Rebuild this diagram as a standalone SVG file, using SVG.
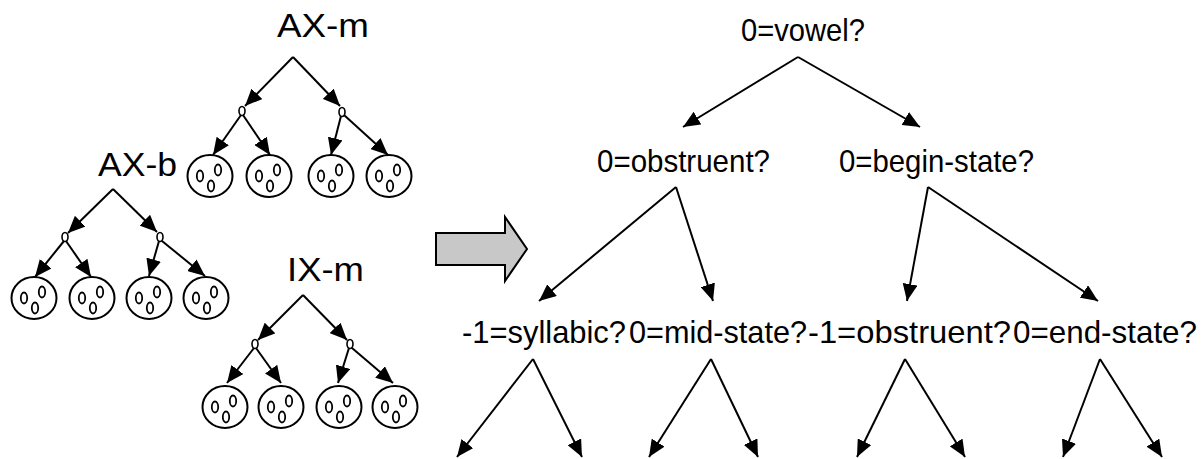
<svg xmlns="http://www.w3.org/2000/svg" xmlns:xlink="http://www.w3.org/1999/xlink" width="1203" height="459" viewBox="0 0 1203 459">
<style>
  .lbl { font-family: "Liberation Sans", Arial, sans-serif; fill: #000; }
  .big { font-size: 34px; }
  .q { font-size: 32px; }
  .q2 { font-size: 32px; }
  .edge { stroke: #000; stroke-width: 2; fill: none; marker-end: url(#ah); }
  .sn { fill: #fff; stroke: #000; stroke-width: 1.6; }
  .leafc { fill: #fff; stroke: #000; stroke-width: 2; }
  .mix { fill: none; stroke: #000; stroke-width: 1.8; }
</style>
<defs>
  <marker id="ah" markerWidth="18" markerHeight="15" refX="17" refY="7.5" orient="auto" markerUnits="userSpaceOnUse">
    <path d="M0,0 L17,7.5 L0,15 z" fill="#000"/>
  </marker>
  <g id="leaf">
    <ellipse class="leafc" cx="0" cy="0" rx="22.5" ry="21"/>
    <ellipse class="mix" cx="-10" cy="0" rx="3.2" ry="5.5"/>
    <ellipse class="mix" cx="8" cy="-6" rx="3.2" ry="5.5"/>
    <ellipse class="mix" cx="1" cy="10" rx="3.2" ry="5.5"/>
  </g>
</defs>
<rect width="1203" height="459" fill="#fff"/>

<g id="connectors">
  <!-- AX-m -->
  <line class="edge" x1="293" y1="57" x2="245" y2="106"/>
  <line class="edge" x1="293" y1="57" x2="340" y2="106"/>
  <line class="edge" x1="241" y1="115" x2="213" y2="155"/>
  <line class="edge" x1="243" y1="115" x2="270" y2="155"/>
  <line class="edge" x1="341" y1="116" x2="331" y2="155"/>
  <line class="edge" x1="344" y1="115" x2="388" y2="155"/>
  <!-- AX-b -->
  <line class="edge" x1="113" y1="189" x2="68" y2="233"/>
  <line class="edge" x1="113" y1="189" x2="157" y2="232"/>
  <line class="edge" x1="64" y1="241" x2="35" y2="277"/>
  <line class="edge" x1="66" y1="241" x2="91" y2="277"/>
  <line class="edge" x1="159" y1="241" x2="149" y2="276"/>
  <line class="edge" x1="162" y1="241" x2="205" y2="276"/>
  <!-- IX-m -->
  <line class="edge" x1="303" y1="295" x2="258" y2="340"/>
  <line class="edge" x1="303" y1="295" x2="347" y2="340"/>
  <line class="edge" x1="254" y1="348" x2="227" y2="383"/>
  <line class="edge" x1="256" y1="348" x2="281" y2="383"/>
  <line class="edge" x1="349" y1="348" x2="338" y2="383"/>
  <line class="edge" x1="352" y1="348" x2="393" y2="383"/>
  <!-- decision tree -->
  <line class="edge" x1="798" y1="57" x2="683" y2="127"/>
  <line class="edge" x1="798" y1="57" x2="920" y2="127"/>
  <line class="edge" x1="676" y1="187" x2="539" y2="301"/>
  <line class="edge" x1="676" y1="187" x2="713" y2="301"/>
  <line class="edge" x1="928" y1="187" x2="907" y2="301"/>
  <line class="edge" x1="928" y1="187" x2="1098" y2="301"/>
  <line class="edge" x1="533" y1="359" x2="457" y2="457"/>
  <line class="edge" x1="533" y1="359" x2="582" y2="457"/>
  <line class="edge" x1="711" y1="359" x2="649" y2="457"/>
  <line class="edge" x1="711" y1="359" x2="758" y2="457"/>
  <line class="edge" x1="905" y1="359" x2="857" y2="457"/>
  <line class="edge" x1="905" y1="359" x2="965" y2="457"/>
  <line class="edge" x1="1100" y1="359" x2="1063" y2="457"/>
  <line class="edge" x1="1100" y1="359" x2="1162" y2="457"/>
</g>

<g id="AX-m">
  <text class="lbl big" x="277" y="37" textLength="92" lengthAdjust="spacingAndGlyphs">AX-m</text>
  <ellipse class="sn" cx="242" cy="111" rx="3" ry="4.5"/>
  <ellipse class="sn" cx="342" cy="112" rx="3" ry="4.5"/>
  <use xlink:href="#leaf" href="#leaf" transform="translate(210,176)"/>
  <use xlink:href="#leaf" href="#leaf" transform="translate(269,176)"/>
  <use xlink:href="#leaf" href="#leaf" transform="translate(331,176)"/>
  <use xlink:href="#leaf" href="#leaf" transform="translate(389,176)"/>
</g>

<g id="AX-b">
  <text class="lbl big" x="98" y="176" textLength="79" lengthAdjust="spacingAndGlyphs">AX-b</text>
  <ellipse class="sn" cx="65" cy="237" rx="3" ry="4.5"/>
  <ellipse class="sn" cx="160" cy="237" rx="3" ry="4.5"/>
  <use xlink:href="#leaf" href="#leaf" transform="translate(34,298)"/>
  <use xlink:href="#leaf" href="#leaf" transform="translate(92,298)"/>
  <use xlink:href="#leaf" href="#leaf" transform="translate(149,298)"/>
  <use xlink:href="#leaf" href="#leaf" transform="translate(206,298)"/>
</g>

<g id="IX-m">
  <text class="lbl big" x="287" y="281" textLength="77" lengthAdjust="spacingAndGlyphs">IX-m</text>
  <ellipse class="sn" cx="255" cy="344" rx="3" ry="4.5"/>
  <ellipse class="sn" cx="350" cy="344" rx="3" ry="4.5"/>
  <use xlink:href="#leaf" href="#leaf" transform="translate(225,407)"/>
  <use xlink:href="#leaf" href="#leaf" transform="translate(281,407)"/>
  <use xlink:href="#leaf" href="#leaf" transform="translate(339,407)"/>
  <use xlink:href="#leaf" href="#leaf" transform="translate(395,407)"/>
</g>

<g id="block-arrow">
  <polygon points="436,233 505,233 505,217 527,249 505,281 505,265 436,265" fill="#c8c8c8" stroke="#000" stroke-width="2" stroke-linejoin="miter"/>
</g>

<g id="q-vowel"><text class="lbl q" x="741" y="41" textLength="124" lengthAdjust="spacingAndGlyphs">0=vowel?</text></g>
<g id="q-obstruent"><text class="lbl q" x="597" y="172" textLength="173" lengthAdjust="spacingAndGlyphs">0=obstruent?</text></g>
<g id="q-begin-state"><text class="lbl q" x="839" y="172" textLength="195" lengthAdjust="spacingAndGlyphs">0=begin-state?</text></g>
<g id="q-syllabic"><text class="lbl q2" x="462" y="343" textLength="164" lengthAdjust="spacingAndGlyphs">-1=syllabic?</text></g>
<g id="q-mid-state"><text class="lbl q2" x="629" y="343" textLength="178" lengthAdjust="spacingAndGlyphs">0=mid-state?</text></g>
<g id="q-prev-obstruent"><text class="lbl q2" x="808" y="343" textLength="203" lengthAdjust="spacingAndGlyphs">-1=obstruent?</text></g>
<g id="q-end-state"><text class="lbl q2" x="1013" y="343" textLength="184" lengthAdjust="spacingAndGlyphs">0=end-state?</text></g>
</svg>
